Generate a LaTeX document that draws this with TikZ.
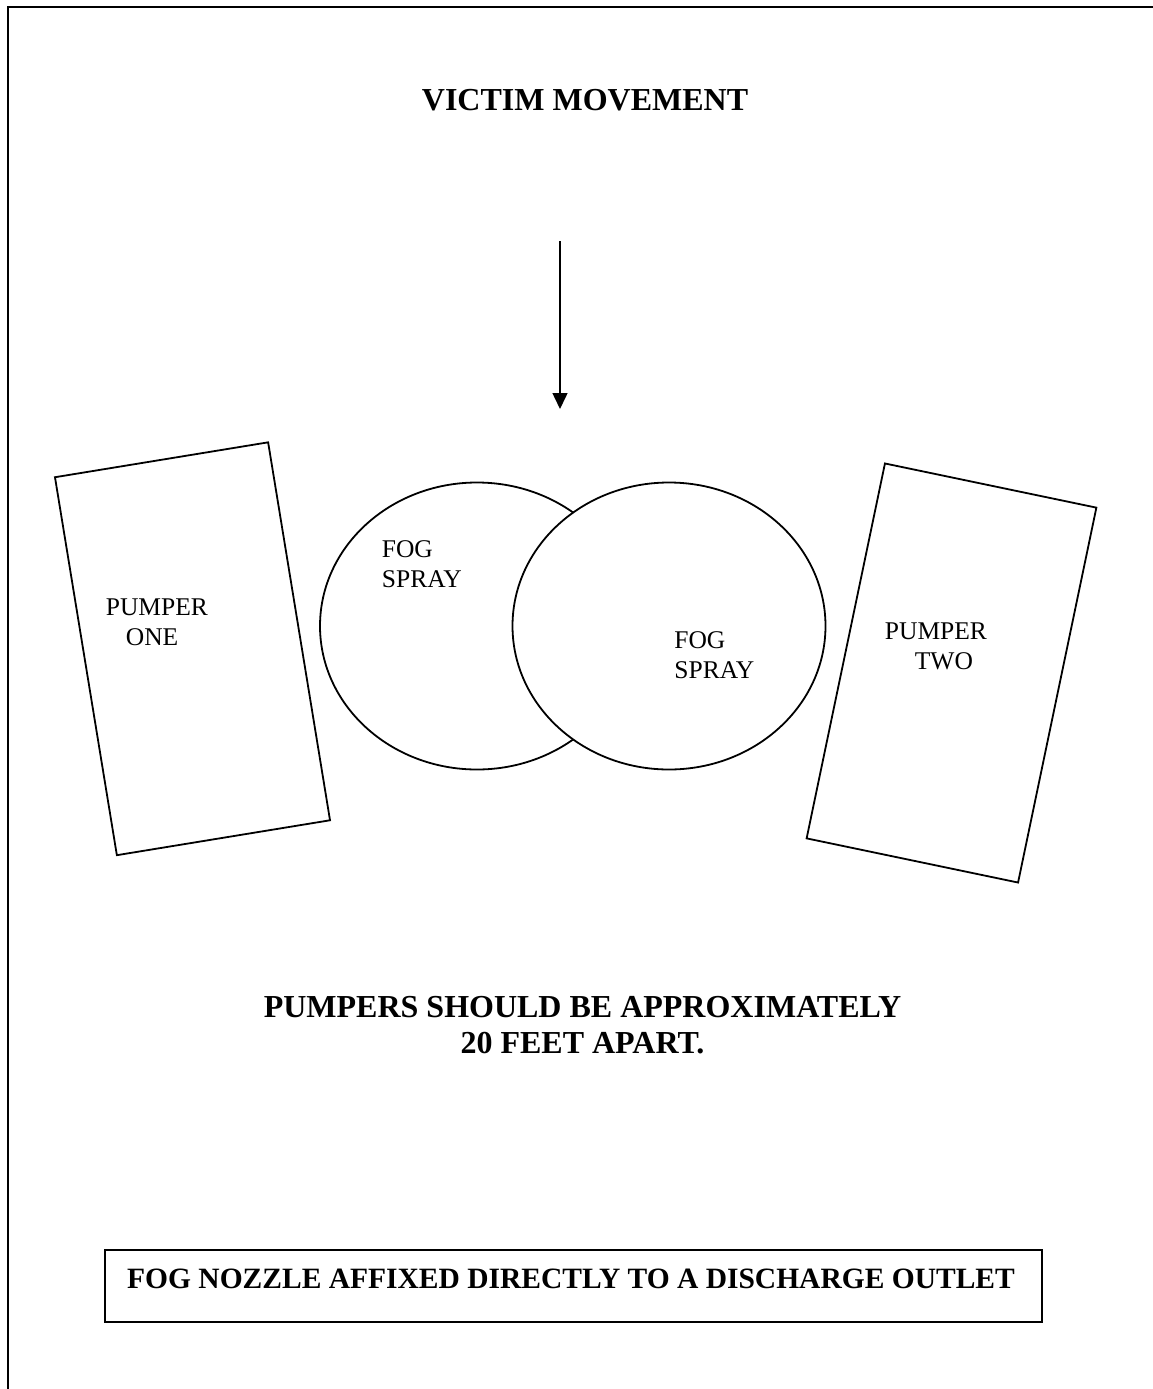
\documentclass[tikz,border=0pt]{standalone}
\usepackage{fontspec}
\setmainfont{Liberation Serif}
\usetikzlibrary{arrows.meta,shapes.geometric}
\begin{document}
\begin{tikzpicture}[x=1pt,y=-1pt,
  line width=1.8pt,
  lbl/.style={inner sep=0pt, font=\fontsize{25.5}{30}\selectfont, anchor=base west},
  boldtxt/.style={inner sep=0pt, font=\fontsize{32}{37}\selectfont\bfseries, anchor=base},
  pumper/.style={draw, rectangle, inner sep=0pt, minimum width=216pt, minimum height=383pt},
  fog/.style={draw, ellipse, inner sep=0pt, fill=white},
  frameline/.style={line width=2.4pt}]
\useasboundingbox (0,0) rectangle (1153,1389);
\fill[white] (0,0) rectangle (1153,1389);
% page frame
\coordinate (fbl) at (8,1389);
\coordinate (ftl) at (8,7);
\coordinate (ftr) at (1153,7);
\draw[frameline] (fbl) -- (ftl) -- (ftr);
% title and arrow
\node[boldtxt] (title) at (585,110) {VICTIM MOVEMENT};
\coordinate (arrTop) at (560,241);
\coordinate (arrTip) at (560,409);
\draw[line width=1.5pt, -{Triangle[width=15pt,length=16pt]}] (arrTop) -- (arrTip);
% pumpers
\node[pumper, rotate=9.3] (p1) at (192.5,648.75) {};
\node[pumper, rotate=-11.8] (p2) at (951.5,673) {};
\node[lbl] (p1a) at (105,615) {PUMPER};
\node[lbl] (p1b) at (125,645) {ONE};
\node[lbl] (p2a) at (884,639) {PUMPER};
\node[lbl] (p2b) at (914,669) {TWO};
% fog sprays
\node[fog, minimum width=314pt, minimum height=287pt] (fogL) at (477,626) {};
\node[fog, minimum width=313pt, minimum height=287pt] (fogR) at (669,626) {};
\node[lbl] (f1a) at (381,557) {FOG};
\node[lbl] (f1b) at (381,587) {SPRAY};
\node[lbl] (f2a) at (673.5,648) {FOG};
\node[lbl] (f2b) at (673.5,678) {SPRAY};
% note
\node[boldtxt] (note1) at (582.5,1017) {PUMPERS SHOULD BE APPROXIMATELY};
\node[boldtxt] (note2) at (582.5,1053) {20 FEET APART.};
% bottom box
\node[draw, line width=2.4pt, inner sep=0pt, minimum width=937pt, minimum height=72pt] (outlet) at (573.5,1286) {};
\node[boldtxt, font=\fontsize{29.5}{34}\selectfont\bfseries] (outlettxt) at (571,1288) {FOG NOZZLE AFFIXED DIRECTLY TO A DISCHARGE OUTLET};
\end{tikzpicture}
\end{document}
